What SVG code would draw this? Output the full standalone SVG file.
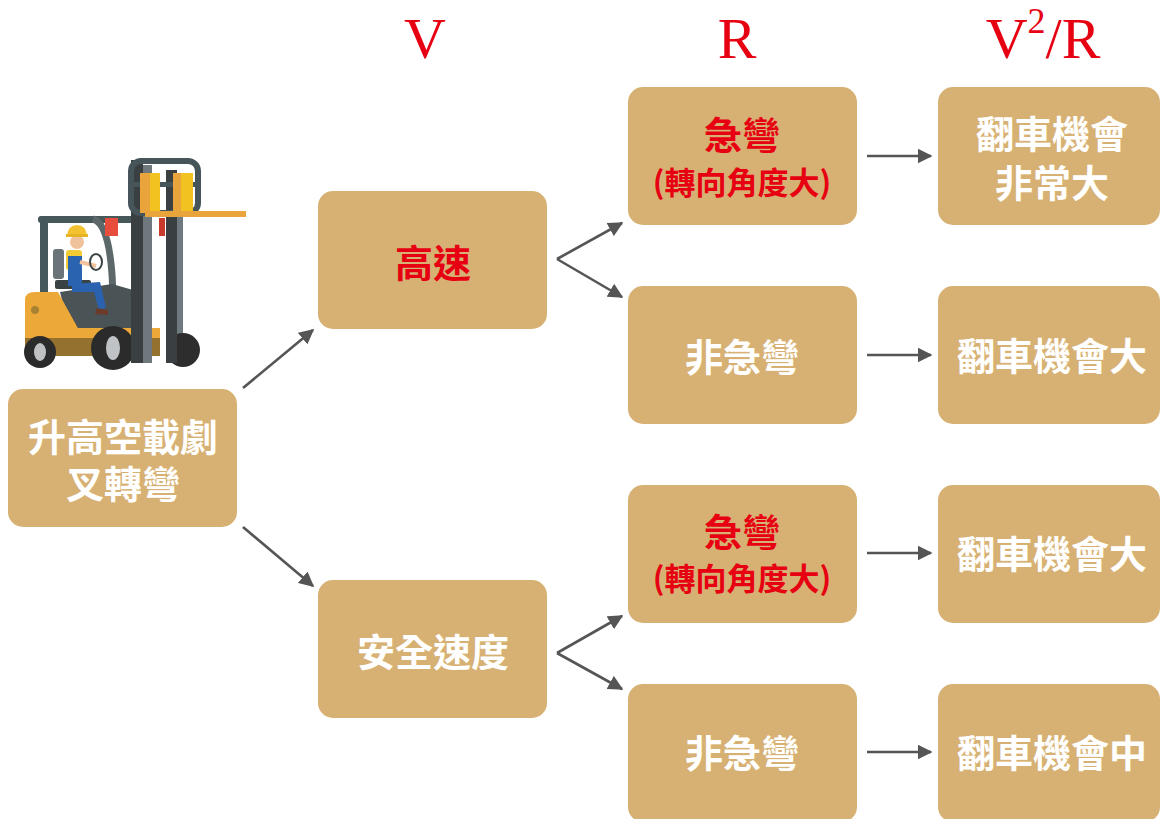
<svg xmlns="http://www.w3.org/2000/svg" width="1161" height="819" viewBox="0 0 1161 819">
<defs>
<style>
.box{fill:#d7b173}
.t{font-family:"Noto Sans CJK TC","Noto Sans CJK SC",sans-serif;font-weight:700;font-size:38px;fill:#ffffff;text-anchor:middle;dominant-baseline:central}
.red{fill:#e60012}
.sm{font-size:31px}
.hd{font-family:"Liberation Serif",serif;font-size:58px;fill:#e60012;text-anchor:middle}
.con{stroke:#555555;stroke-width:2.6;fill:none;marker-end:url(#ah)}
</style>
<marker id="ah" viewBox="0 0 10 10" refX="9" refY="5" markerWidth="15" markerHeight="15" markerUnits="userSpaceOnUse" orient="auto">
<path d="M0,0 L10,5 L0,10 z" fill="#555555"/>
</marker>
</defs>
<rect width="1161" height="819" fill="#ffffff"/>

<g id="headers">
<text class="hd" x="425" y="58">V</text>
<text class="hd" x="737" y="58">R</text>
<text class="hd" x="1043" y="58">V<tspan font-size="36" dy="-25">2</tspan><tspan dy="25">/R</tspan></text>
</g>

<g id="forklift">
<rect x="166" y="213" width="17" height="150" fill="#6f7a80"/>
<circle cx="183" cy="350" r="17" fill="#2d2d2d"/>
<rect x="38" y="216" width="98" height="7" rx="3" fill="#47585a"/>
<rect x="40" y="218" width="8" height="78" fill="#47585a"/>
<path d="M93,219 Q112,224 113,300 L118,330" stroke="#5d686b" stroke-width="7" fill="none"/>
<rect x="105" y="218" width="13" height="18" fill="#e84c3d"/>
<rect x="159" y="218" width="6" height="18" fill="#c9392c"/>
<path d="M60,292 L112,284 L140,292 L140,332 L70,332 Z" fill="#4a5457"/>
<rect x="53" y="249" width="11" height="30" rx="3" fill="#6b7478"/>
<rect x="55" y="280" width="36" height="9" rx="2" fill="#3a4244"/>
<path d="M72,284 L100,282 L106,308 L99,310 L94,292 L72,292 Z" fill="#2a62b0"/>
<path d="M97,308 L108,310 L108,315 L95,314 Z" fill="#6b3a2a"/>
<rect x="66" y="250" width="16" height="20" rx="3" fill="#f3cc33"/>
<rect x="68" y="256" width="14" height="30" fill="#2a64b0"/>
<path d="M80,262 L96,266" stroke="#f0c29c" stroke-width="4"/>
<ellipse cx="96" cy="262" rx="6" ry="8" fill="none" stroke="#3b4446" stroke-width="2"/>
<circle cx="77" cy="242" r="7" fill="#f0c29c"/>
<path d="M67,236 Q68,225 77,225 Q86,225 87,236 Z" fill="#f2c230"/>
<rect x="66" y="234" width="22" height="3" fill="#e6b322"/>
<path d="M25,300 Q25,292 35,292 L58,292 L80,332 L25,332 Z" fill="#eda937"/>
<circle cx="35" cy="310" r="4" fill="#a88232"/>
<rect x="25" y="328" width="135" height="22" fill="#eda937"/>
<rect x="25" y="338" width="135" height="18" fill="#94712f"/>
<circle cx="40" cy="352" r="16" fill="#2b2b2b"/>
<ellipse cx="40" cy="352" rx="6" ry="9" fill="#bfc1c3"/>
<circle cx="113" cy="348" r="22" fill="#2b2b2b"/>
<ellipse cx="113" cy="348" rx="7" ry="12" fill="#c0c3c5"/>
<rect x="131" y="160" width="12" height="203" fill="#3a3f42"/>
<rect x="143" y="165" width="9" height="198" fill="#6e787d"/>
<rect x="166" y="170" width="11" height="193" fill="#3a3f42"/>
<rect x="131" y="161" width="67" height="52" rx="10" fill="none" stroke="#46555a" stroke-width="6"/>
<rect x="131" y="182" width="67" height="5" fill="#46555a"/>
<rect x="140" y="173" width="10" height="40" fill="#e9a53b"/>
<rect x="150" y="173" width="10" height="40" fill="#f2c320"/>
<rect x="173" y="173" width="8" height="40" fill="#e9a53b"/>
<rect x="181" y="173" width="12" height="40" fill="#f2c320"/>
<rect x="145" y="211" width="101" height="6" fill="#e9a53b"/>
</g>

<g id="connectors">
<path class="con" d="M243,388 L313,330"/>
<path class="con" d="M243,527 L313,586"/>
<path class="con" d="M557,259 L622,223"/>
<path class="con" d="M557,259 L622,297"/>
<path class="con" d="M557,653 L622,616"/>
<path class="con" d="M557,653 L622,689"/>
<path class="con" d="M867,156 L931,156"/>
<path class="con" d="M867,355 L931,355"/>
<path class="con" d="M867,553 L931,553"/>
<path class="con" d="M867,752 L931,752"/>
</g>

<g id="n-start">
<rect class="box" x="8" y="389" width="229" height="138" rx="15"/>
<text class="t" x="123" y="434">升高空載劇<tspan x="123" dy="47">叉轉彎</tspan></text>
</g>
<g id="n-high">
<rect class="box" x="318" y="191" width="229" height="138" rx="15"/>
<text class="t red" x="433" y="260">高速</text>
</g>
<g id="n-safe">
<rect class="box" x="318" y="580" width="229" height="138" rx="15"/>
<text class="t" x="433" y="649">安全速度</text>
</g>
<g id="n-r1">
<rect class="box" x="628" y="87" width="229" height="138" rx="15"/>
<text class="t red" x="742" y="132">急彎</text>
<text class="t red sm" x="742" y="180">(轉向角度大)</text>
</g>
<g id="n-r2">
<rect class="box" x="628" y="286" width="229" height="138" rx="15"/>
<text class="t" x="742" y="354">非急彎</text>
</g>
<g id="n-r3">
<rect class="box" x="628" y="485" width="229" height="138" rx="15"/>
<text class="t red" x="742" y="529">急彎</text>
<text class="t red sm" x="742" y="576">(轉向角度大)</text>
</g>
<g id="n-r4">
<rect class="box" x="628" y="684" width="229" height="138" rx="15"/>
<text class="t" x="742" y="750">非急彎</text>
</g>
<g id="n-o1">
<rect class="box" x="938" y="87" width="222" height="138" rx="15"/>
<text class="t" x="1052" y="131">翻車機會<tspan x="1052" dy="49">非常大</tspan></text>
</g>
<g id="n-o2">
<rect class="box" x="938" y="286" width="222" height="138" rx="15"/>
<text class="t" x="1052" y="353">翻車機會大</text>
</g>
<g id="n-o3">
<rect class="box" x="938" y="485" width="222" height="138" rx="15"/>
<text class="t" x="1052" y="551">翻車機會大</text>
</g>
<g id="n-o4">
<rect class="box" x="938" y="684" width="222" height="138" rx="15"/>
<text class="t" x="1052" y="750">翻車機會中</text>
</g>
</svg>
